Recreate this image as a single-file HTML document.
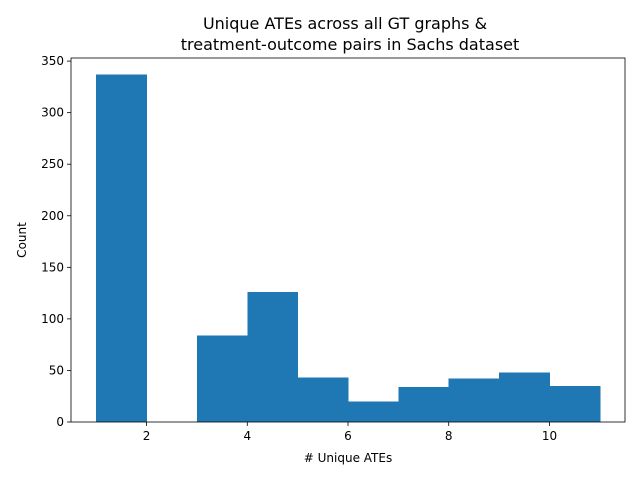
<!DOCTYPE html>
<html><head><meta charset="utf-8"><style>
body{margin:0;background:#fff;font-family:"Liberation Sans","DejaVu Sans",sans-serif;}
svg text{font-family:"DejaVu Sans","Liberation Sans",sans-serif;}
</style></head><body>
<svg id="chart" width="640" height="480" xmlns="http://www.w3.org/2000/svg">
<rect width="640" height="480" fill="#fff"/>
<text x="345" y="29" font-size="16" text-anchor="middle">Unique ATEs across all GT graphs &amp;</text>
<text x="350" y="50" font-size="16" text-anchor="middle">treatment-outcome pairs in Sachs dataset</text>
<g id="bars" shape-rendering="crispEdges"></g>
<g id="axes"></g>
<text x="348" y="462" font-size="12" text-anchor="middle"># Unique ATEs</text>
<text transform="translate(26,240) rotate(-90)" font-size="12" text-anchor="middle">Count</text>
</svg>
<script>
const binEdges = [1,2,3,4,5,6,7,8,9,10,11];
const counts = [337,0,84,126,43,20,34,42,48,35];
const xTicks = [2,4,6,8,10];
const yTicks = [0,50,100,150,200,250,300,350];
const L=71,R=625,T=58,B=422;
const xMin=0.5,xMax=11.5,yMax=353;
const sx=v=>L+(v-xMin)/(xMax-xMin)*(R-L);
const sy=v=>B-v/yMax*(B-T);
const NS="http://www.w3.org/2000/svg";
const bars=document.getElementById('bars'), axes=document.getElementById('axes');
counts.forEach((c,i)=>{
  const r=document.createElementNS(NS,'rect');
  r.setAttribute('x',sx(binEdges[i]));
  r.setAttribute('width',sx(binEdges[i+1])-sx(binEdges[i])+0.5);
  r.setAttribute('y',sy(c));
  r.setAttribute('height',B-sy(c));
  r.setAttribute('fill','#1f77b4');
  
  
  bars.appendChild(r);
});
const frame=document.createElementNS(NS,'rect');
frame.setAttribute('x',L);frame.setAttribute('y',T);frame.setAttribute('width',R-L);frame.setAttribute('height',B-T);
frame.setAttribute('fill','none');frame.setAttribute('stroke','#000');frame.setAttribute('stroke-width','0.8');


axes.appendChild(frame);
xTicks.forEach(t=>{
  const x=sx(t);
  const l=document.createElementNS(NS,'line');
  l.setAttribute('x1',x);l.setAttribute('x2',x);l.setAttribute('y1',B);l.setAttribute('y2',B+4);l.setAttribute('stroke','#000');l.setAttribute('stroke-width','0.8');
  
  
  axes.appendChild(l);
  const tx=document.createElementNS(NS,'text');
  tx.setAttribute('x',x);tx.setAttribute('y',B+18);tx.setAttribute('font-size','12');tx.setAttribute('text-anchor','middle');
  tx.textContent=t;
  
  
  axes.appendChild(tx);
});
yTicks.forEach(t=>{
  const y=sy(t);
  const l=document.createElementNS(NS,'line');
  l.setAttribute('x1',L-4);l.setAttribute('x2',L);l.setAttribute('y1',y);l.setAttribute('y2',y);l.setAttribute('stroke','#000');l.setAttribute('stroke-width','0.8');
  
  
  axes.appendChild(l);
  const tx=document.createElementNS(NS,'text');
  tx.setAttribute('x',L-7);tx.setAttribute('y',y+4);tx.setAttribute('font-size','12');tx.setAttribute('text-anchor','end');
  tx.textContent=t;
  
  
  axes.appendChild(tx);
});
</script>
</body></html>
